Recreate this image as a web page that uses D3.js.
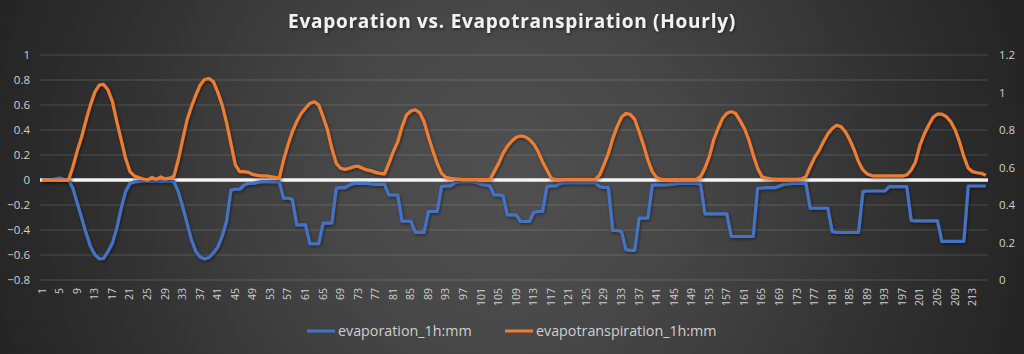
<!DOCTYPE html>
<html>
<head>
<meta charset="utf-8">
<script src="https://cdn.jsdelivr.net/npm/d3@7"></script>
<style>
  html, body { margin: 0; padding: 0; background: #2a2a2a; }
  svg { display: block; }
</style>
</head>
<body>
<div id="chart"></div>
<script>
// hour index 1..216
const hours = d3.range(1, 217);

// evaporation_1h:mm (left axis)
const evaporation = [
  0, 0, 0, 0.01, 0.015, 0.005, 0, -0.066, -0.186, -0.305,
  -0.425, -0.531, -0.598, -0.63, -0.627, -0.571, -0.505, -0.385, -0.226, -0.093,
  -0.027, -0.015, -0.012, -0.01, -0.01, -0.01, -0.01, -0.01, -0.01, -0.01,
  -0.012, -0.093, -0.212, -0.345, -0.478, -0.571, -0.616, -0.632, -0.62, -0.584,
  -0.537, -0.45, -0.33, -0.08, -0.074, -0.074, -0.04, -0.027, -0.027, -0.019,
  -0.013, -0.013, -0.013, -0.013, -0.013, -0.146, -0.146, -0.154, -0.359, -0.359,
  -0.359, -0.51, -0.51, -0.51, -0.345, -0.345, -0.345, -0.066, -0.061, -0.061,
  -0.04, -0.027, -0.027, -0.027, -0.027, -0.032, -0.035, -0.035, -0.035, -0.12,
  -0.12, -0.12, -0.33, -0.33, -0.33, -0.417, -0.42, -0.42, -0.252, -0.252,
  -0.252, -0.053, -0.048, -0.048, -0.021, -0.013, -0.013, -0.013, -0.013, -0.021,
  -0.035, -0.04, -0.048, -0.12, -0.12, -0.125, -0.279, -0.279, -0.279, -0.332,
  -0.332, -0.332, -0.258, -0.252, -0.252, -0.053, -0.048, -0.048, -0.027, -0.021,
  -0.021, -0.021, -0.021, -0.021, -0.021, -0.021, -0.021, -0.053, -0.06, -0.06,
  -0.404, -0.404, -0.412, -0.558, -0.563, -0.563, -0.305, -0.305, -0.305, -0.04,
  -0.04, -0.04, -0.04, -0.035, -0.032, -0.027, -0.027, -0.027, -0.027, -0.027,
  -0.032, -0.271, -0.271, -0.271, -0.271, -0.271, -0.271, -0.452, -0.452, -0.452,
  -0.452, -0.452, -0.452, -0.066, -0.064, -0.061, -0.061, -0.061, -0.048, -0.035,
  -0.032, -0.027, -0.027, -0.027, -0.027, -0.226, -0.226, -0.226, -0.226, -0.226,
  -0.412, -0.42, -0.42, -0.42, -0.42, -0.42, -0.42, -0.093, -0.088, -0.088,
  -0.088, -0.088, -0.088, -0.053, -0.053, -0.053, -0.053, -0.053, -0.324, -0.327,
  -0.327, -0.327, -0.327, -0.327, -0.327, -0.491, -0.491, -0.491, -0.491, -0.491,
  -0.491, -0.048, -0.048, -0.048, -0.048, -0.048
];

// evapotranspiration_1h:mm (right axis)
const evapotranspiration = [
  0.533, 0.533, 0.533, 0.533, 0.533, 0.533, 0.533, 0.604, 0.690, 0.764,
  0.853, 0.934, 1.002, 1.040, 1.043, 1.013, 0.951, 0.845, 0.747, 0.649,
  0.578, 0.555, 0.547, 0.539, 0.533, 0.547, 0.537, 0.550, 0.539, 0.543,
  0.553, 0.640, 0.748, 0.853, 0.924, 0.986, 1.040, 1.069, 1.075, 1.058,
  1.002, 0.934, 0.841, 0.727, 0.614, 0.578, 0.578, 0.574, 0.563, 0.558,
  0.555, 0.555, 0.551, 0.547, 0.542, 0.640, 0.721, 0.791, 0.845, 0.888,
  0.916, 0.942, 0.951, 0.934, 0.871, 0.801, 0.701, 0.622, 0.596, 0.590,
  0.596, 0.604, 0.607, 0.596, 0.587, 0.582, 0.574, 0.569, 0.566, 0.622,
  0.685, 0.737, 0.818, 0.880, 0.901, 0.908, 0.893, 0.845, 0.764, 0.690,
  0.622, 0.569, 0.547, 0.542, 0.539, 0.537, 0.535, 0.535, 0.535, 0.535,
  0.535, 0.535, 0.535, 0.578, 0.622, 0.675, 0.714, 0.741, 0.761, 0.768,
  0.764, 0.750, 0.725, 0.685, 0.631, 0.587, 0.542, 0.535, 0.535, 0.535,
  0.535, 0.535, 0.535, 0.535, 0.535, 0.535, 0.535, 0.560, 0.614, 0.675,
  0.754, 0.818, 0.868, 0.889, 0.883, 0.857, 0.791, 0.720, 0.640, 0.578,
  0.546, 0.537, 0.535, 0.535, 0.535, 0.535, 0.535, 0.535, 0.535, 0.535,
  0.551, 0.596, 0.658, 0.748, 0.808, 0.861, 0.889, 0.898, 0.889, 0.850,
  0.808, 0.748, 0.667, 0.596, 0.551, 0.544, 0.540, 0.537, 0.537, 0.537,
  0.537, 0.537, 0.537, 0.539, 0.551, 0.604, 0.654, 0.690, 0.737, 0.779,
  0.808, 0.825, 0.818, 0.791, 0.748, 0.694, 0.631, 0.587, 0.565, 0.557,
  0.555, 0.555, 0.555, 0.555, 0.555, 0.555, 0.555, 0.560, 0.587, 0.631,
  0.720, 0.779, 0.827, 0.868, 0.885, 0.885, 0.871, 0.845, 0.801, 0.737,
  0.658, 0.596, 0.578, 0.572, 0.569, 0.558
];

const hourTicks = hours.filter((d, i) => i % 4 === 0);
const leftTicks = [-0.8, -0.6, -0.4, -0.2, 0, 0.2, 0.4, 0.6, 0.8, 1];
const rightTicks = [0, 0.2, 0.4, 0.6, 0.8, 1, 1.2];

const seriesNames = ['evaporation_1h:mm', 'evapotranspiration_1h:mm'];
const seriesColors = ['#4472C4', '#ED7D31'];

const width = 1024;
const height = 354;
const plot = { left: 40, right: 988, top: 55, bottom: 280 };
const font = "'Open Sans', 'DejaVu Sans', sans-serif";

const svg = d3.select('#chart')
    .append('svg')
    .attr('width', width)
    .attr('height', height);

const defs = svg.append('defs');

// radial background
const grad = defs.append('radialGradient')
    .attr('id', 'bg')
    .attr('gradientUnits', 'userSpaceOnUse')
    .attr('cx', 505).attr('cy', 180).attr('r', 600);
[[0, '#505050'], [0.1, '#4d4d4d'], [0.28, '#474747'], [0.45, '#3e3e3e'],
 [0.62, '#333333'], [0.78, '#2a2a2a'], [0.9, '#242424'], [1, '#1f1f1f']]
    .forEach(s => grad.append('stop').attr('offset', s[0]).attr('stop-color', s[1]));

const shadow = defs.append('filter')
    .attr('id', 'shadow')
    .attr('x', '-5%').attr('y', '-20%').attr('width', '110%').attr('height', '140%');
shadow.append('feDropShadow')
    .attr('dx', 1).attr('dy', 1.5).attr('stdDeviation', 1.5)
    .attr('flood-color', '#000').attr('flood-opacity', 0.45);

svg.append('rect')
    .attr('width', width)
    .attr('height', height)
    .attr('fill', 'url(#bg)');

// Scales
const xScale = d3.scaleBand()
    .domain(hours)
    .range([plot.left, plot.right]);

const yLeft = d3.scaleLinear()
    .domain([-0.8, 1])
    .range([plot.bottom, plot.top]);

const yRight = d3.scaleLinear()
    .domain([0, 1.2])
    .range([plot.bottom, plot.top]);

const cx = d => xScale(d) + xScale.bandwidth() / 2;

// Gridlines
svg.append('g')
    .selectAll('line')
    .data(leftTicks.filter(t => t !== 0))
    .join('line')
    .attr('x1', plot.left)
    .attr('x2', plot.right)
    .attr('y1', d => yLeft(d))
    .attr('y2', d => yLeft(d))
    .attr('stroke', 'rgba(255,255,255,0.16)')
    .attr('stroke-width', 1);

// Left axis
const leftAxis = svg.append('g')
    .attr('transform', `translate(${plot.left - 10}, 0)`)
    .call(d3.axisLeft(yLeft).tickValues(leftTicks).tickSize(0).tickPadding(0)
        .tickFormat(d => d3.format('')(+d.toFixed(1))));
leftAxis.select('.domain').remove();
leftAxis.selectAll('text')
    .attr('fill', '#d0d0d0')
    .style('font-family', font)
    .style('font-size', '11.5px');

// Right axis
const rightAxis = svg.append('g')
    .attr('transform', `translate(${plot.right + 11}, 0)`)
    .call(d3.axisRight(yRight).tickValues(rightTicks).tickSize(0).tickPadding(0)
        .tickFormat(d => d3.format('')(+d.toFixed(1))));
rightAxis.select('.domain').remove();
rightAxis.selectAll('text')
    .attr('fill', '#d0d0d0')
    .style('font-family', font)
    .style('font-size', '11.5px');

// Bottom axis labels (rotated)
svg.append('g')
    .selectAll('text')
    .data(hourTicks)
    .join('text')
    .attr('transform', d => `translate(${cx(d) + 3.5}, ${plot.bottom + 8}) rotate(-90)`)
    .attr('text-anchor', 'end')
    .attr('fill', '#d0d0d0')
    .style('font-family', font)
    .style('font-size', '10.5px')
    .text(d => d);

// Zero line
svg.append('line')
    .attr('x1', plot.left)
    .attr('x2', plot.right)
    .attr('y1', yLeft(0))
    .attr('y2', yLeft(0))
    .attr('stroke', '#f4f4f4')
    .attr('stroke-width', 3.5);

// Series lines
const blueLine = d3.line()
    .x((d, i) => cx(hours[i]))
    .y(d => yLeft(d));

const orangeLine = d3.line()
    .x((d, i) => cx(hours[i]))
    .y(d => yRight(d));

svg.append('path')
    .datum(evaporation)
    .attr('fill', 'none')
    .attr('stroke', seriesColors[0])
    .attr('stroke-width', 3.2)
    .attr('stroke-linejoin', 'round')
    .attr('filter', 'url(#shadow)')
    .attr('d', blueLine);

svg.append('path')
    .datum(evapotranspiration)
    .attr('fill', 'none')
    .attr('stroke', seriesColors[1])
    .attr('stroke-width', 3.2)
    .attr('stroke-linejoin', 'round')
    .attr('filter', 'url(#shadow)')
    .attr('d', orangeLine);

// Title
svg.append('text')
    .attr('x', width / 2)
    .attr('y', 28)
    .attr('text-anchor', 'middle')
    .attr('fill', '#f2f2f2')
    .attr('filter', 'url(#shadow)')
    .style('font-family', font)
    .style('font-weight', 'bold')
    .style('font-size', '19px')
    .style('letter-spacing', '0.75px')
    .text('Evaporation vs. Evapotranspiration (Hourly)');

// Legend
const legendX = [307, 505];
const legend = svg.append('g');
seriesNames.forEach((name, i) => {
    legend.append('line')
        .attr('x1', legendX[i])
        .attr('x2', legendX[i] + 28)
        .attr('y1', 331)
        .attr('y2', 331)
        .attr('stroke', seriesColors[i])
        .attr('stroke-width', 3);
    legend.append('text')
        .attr('x', legendX[i] + 31)
        .attr('y', 336)
        .attr('fill', '#d0d0d0')
        .style('font-family', font)
        .style('font-size', '14.3px')
        .text(name);
});
</script>
</body>
</html>
